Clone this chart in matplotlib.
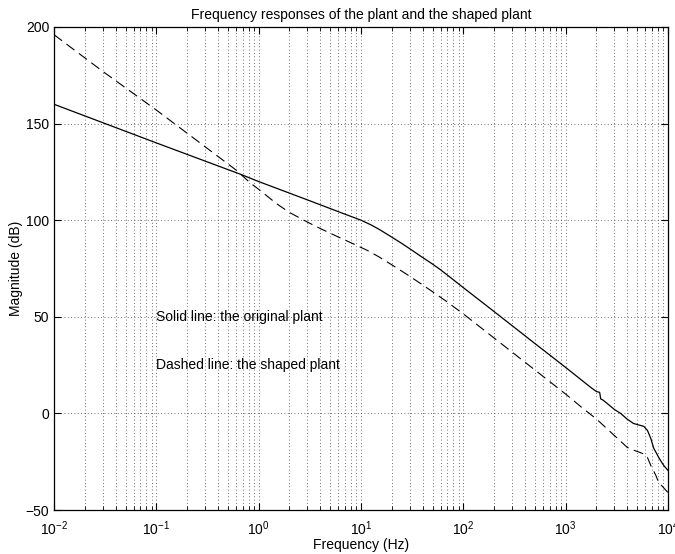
import numpy as np
import matplotlib
matplotlib.use('Agg')
import matplotlib.pyplot as plt
from matplotlib.ticker import LogLocator

plt.rcParams['font.family'] = ['Liberation Sans', 'DejaVu Sans']
plt.rcParams['mathtext.fontset'] = 'custom'
plt.rcParams['mathtext.rm'] = 'Liberation Sans'

# original plant (solid)
f_plant = [0.01, 0.1, 0.67, 1, 3, 6.3, 10, 12.5, 15, 19.5, 25, 30, 38, 50, 60, 75, 100,
           200, 500, 1000, 1745, 2000, 2150, 2200, 2300, 2500, 3000, 3450, 4000,
           4600, 5200, 5800, 6300, 6800, 7250, 7700, 8100, 8600, 9100, 10000]
mag_plant = [160, 140, 123.7, 120, 110.5, 104, 100, 97.6, 95.3, 91.6, 88, 85.2, 81.5, 77.3, 74.3, 70.3, 65.1,
             52.7, 36.2, 23.8, 13.6, 11.3, 10.9, 7.5, 7, 5.5, 2, 0, -3,
             -5.2, -6, -6.7, -8.8, -13, -18, -20.5, -22.7, -25, -27, -29.5]

# shaped plant (dashed)
f_shaped = [0.01, 0.03, 0.1, 0.3, 0.6, 0.84, 1, 1.5, 2, 3, 4, 6, 8, 11.5, 15, 21, 28, 38,
            50, 67, 100, 200, 500, 1000, 1490, 2000, 3000, 4000, 4600, 5200, 5800,
            6300, 6800, 7600, 8100, 8900, 10000]
mag_shaped = [196, 177, 157, 138, 126, 119, 116, 108.5, 104, 99, 95.7, 91.3, 88.3, 84.4, 81.0, 76.2, 72.0, 67.3,
              63.0, 58.3, 51.5, 39, 22.5, 10, 2.4, -2.9, -11.5, -17.6, -19, -20, -21,
              -22.8, -27, -32, -35.7, -38, -41]

fig = plt.figure(figsize=(6.75, 5.54), dpi=100)
ax = fig.add_axes([0.08, 0.0794, 0.9096, 0.8719])

ax.semilogx(f_plant, mag_plant, color='k', lw=0.9)
ax.semilogx(f_shaped, mag_shaped, color='k', lw=0.8, dashes=(9, 5))

ax.set_xlim(1e-2, 1e4)
ax.set_ylim(-50, 200)
ax.set_yticks([-50, 0, 50, 100, 150, 200])
ax.xaxis.set_major_locator(LogLocator(base=10, numticks=10))
ax.xaxis.set_minor_locator(LogLocator(base=10, subs=np.arange(2, 10), numticks=20))

gkw = dict(color='0.25', linestyle=(0, (1, 3)), linewidth=0.6)
ax.grid(True, which='major', axis='both', **gkw)
ax.grid(True, which='minor', axis='x', **gkw)

ax.tick_params(which='both', direction='in', top=True, right=True, labelsize=10)
ax.tick_params(which='major', length=5)
ax.tick_params(which='minor', length=3)
ax.tick_params(axis='x', which='major', pad=7)
for s in ax.spines.values():
    s.set_linewidth(0.9)

ax.text(0.1, 50, 'Solid line: the original plant', fontsize=10, va='center', ha='left')
ax.text(0.1, 25, 'Dashed line: the shaped plant', fontsize=10, va='center', ha='left')

ax.set_title('Frequency responses of the plant and the shaped plant', fontsize=10, pad=6)
ax.set_xlabel('Frequency (Hz)', fontsize=10, labelpad=0)
ax.set_ylabel('Magnitude (dB)', fontsize=10, labelpad=2)

fig.savefig('out.png', dpi=100)
